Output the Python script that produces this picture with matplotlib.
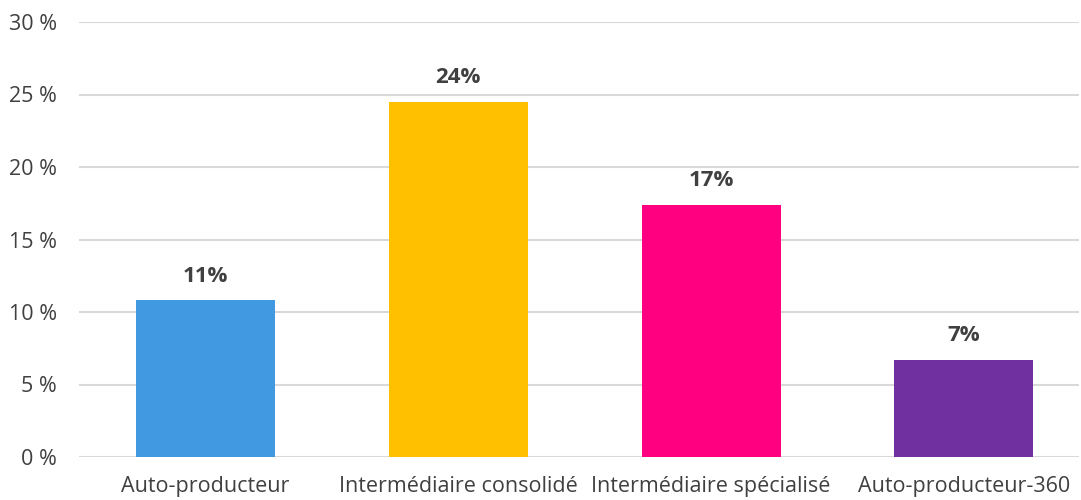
import matplotlib
matplotlib.use("Agg")
import matplotlib.pyplot as plt

categories = ["Auto-producteur", "Intermédiaire consolidé", "Intermédiaire spécialisé", "Auto-producteur-360"]
values = [10.8, 24.5, 17.4, 6.7]
labels = ["11%", "24%", "17%", "7%"]
colors = ["#4199E1", "#FFC000", "#FF0080", "#7030A0"]
yticks = [0, 5, 10, 15, 20, 25, 30]

plt.rcParams['font.family'] = ['Open Sans', 'DejaVu Sans']
fig = plt.figure(figsize=(10.81, 5.0), dpi=100)
ax = fig.add_axes([79/1081, 1 - 457/500, 1000/1081, 435/500])

x = list(range(len(categories)))
ax.bar(x, values, width=0.55, color=colors, zorder=3)
for xi, v, lab in zip(x, values, labels):
    ax.annotate(lab, (xi, v), xytext=(0, 10), textcoords="offset points",
                ha="center", va="bottom", fontsize=16, fontweight="bold", color="#404040")

ax.set_ylim(0, 30)
ax.set_xlim(-0.5, 3.455)
ax.set_yticks(yticks)
ax.set_yticklabels([f"{t} %" for t in yticks])
ax.set_xticks(x)
ax.set_xticklabels(categories)
ax.tick_params(axis='both', length=0, labelsize=15.5, colors="#404040")
ax.tick_params(axis='y', pad=16)
ax.tick_params(axis='x', pad=14)
ax.yaxis.grid(True, color="#D9D9D9", linewidth=1.5, zorder=0)
for s in ax.spines.values():
    s.set_visible(False)

fig.savefig("out.png", dpi=100)
